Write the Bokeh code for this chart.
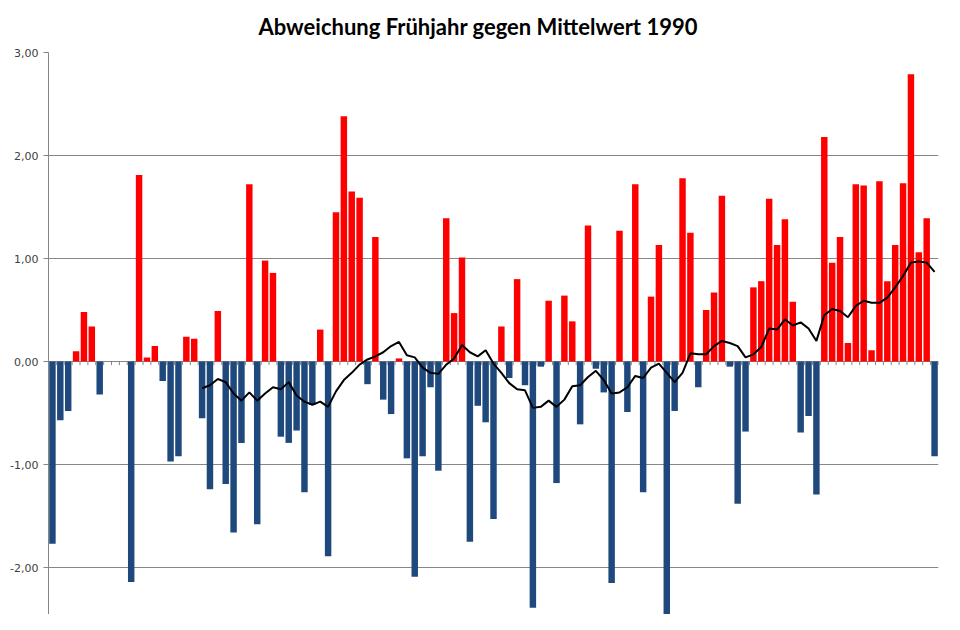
from bokeh.plotting import figure
from bokeh.models import Range1d, FixedTicker, CustomJSTickFormatter, ColumnDataSource
from bokeh.embed import file_html
from bokeh.resources import INLINE

# category index (one per year)
categories = list(range(1, 114))

deviation = [
    -1.77, -0.57, -0.48, 0.10, 0.48, 0.34, -0.32, None, None, None,
    -2.14, 1.81, 0.04, 0.15, -0.19, -0.97, -0.92, 0.24, 0.22, -0.55,
    -1.24, 0.49, -1.19, -1.66, -0.79, 1.72, -1.58, 0.98, 0.86, -0.73,
    -0.79, -0.67, -1.27, -0.42, 0.31, -1.89, 1.45, 2.38, 1.65, 1.59,
    -0.22, 1.21, -0.37, -0.51, 0.03, -0.94, -2.09, -0.92, -0.25, -1.06,
    1.39, 0.47, 1.01, -1.75, -0.43, -0.59, -1.53, 0.34, -0.16, 0.80,
    -0.23, -2.39, -0.05, 0.59, -1.18, 0.64, 0.39, -0.61, 1.32, -0.07,
    -0.30, -2.15, 1.27, -0.49, 1.72, -1.27, 0.63, 1.13, -2.65, -0.48,
    1.78, 1.25, -0.25, 0.50, 0.67, 1.61, -0.05, -1.38, -0.68, 0.72,
    0.78, 1.58, 1.13, 1.38, 0.58, -0.69, -0.53, -1.29, 2.18, 0.96,
    1.21, 0.18, 1.72, 1.71, 0.11, 1.75, 0.78, 1.13, 1.73, 2.79,
    1.06, 1.39, -0.92,
]

# moving-average line, starting at category 20
trend_first_category = 20
trend = [
    -0.26, -0.23, -0.17, -0.20, -0.31, -0.38, -0.30, -0.38, -0.31, -0.25,
    -0.27, -0.20, -0.33, -0.39, -0.42, -0.39, -0.44, -0.29, -0.18, -0.11,
    -0.03, 0.02, 0.05, 0.09, 0.15, 0.19, 0.06, 0.04, -0.06, -0.11,
    -0.12, -0.03, 0.03, 0.16, 0.09, 0.05, 0.11, -0.02, -0.11, -0.21,
    -0.27, -0.28, -0.45, -0.44, -0.38, -0.44, -0.37, -0.24, -0.23, -0.15,
    -0.09, -0.18, -0.31, -0.30, -0.25, -0.14, -0.16, -0.06, -0.02, -0.11,
    -0.20, -0.11, 0.08, 0.07, 0.07, 0.15, 0.20, 0.18, 0.15, 0.04,
    0.07, 0.14, 0.32, 0.31, 0.41, 0.35, 0.38, 0.32, 0.20, 0.45,
    0.51, 0.49, 0.43, 0.54, 0.59, 0.57, 0.57, 0.62, 0.72, 0.83,
    0.96, 0.97, 0.96, 0.87,
]

y_ticks = [-2, -1, 0, 1, 2, 3]

POS = "#FF0000"
NEG = "#1F497D"
GRID = "#868686"

bx = [c for c, v in zip(categories, deviation) if v is not None]
bv = [v for v in deviation if v is not None]
bars = ColumnDataSource(dict(x=bx, top=bv, color=[POS if v > 0 else NEG for v in bv]))

trend_x = categories[trend_first_category - 1:trend_first_category - 1 + len(trend)]

p = figure(width=944, height=614, output_backend="svg", toolbar_location=None,
           x_range=Range1d(categories[0] - 0.5, categories[-1] + 0.5),
           y_range=Range1d(-2.456, 3.0),
           x_axis_location=None,
           min_border_left=48, min_border_right=6, min_border_top=52, min_border_bottom=0)

p.title.text = "Abweichung Frühjahr gegen Mittelwert 1990"
p.title.align = "left"
p.title.offset = 210
p.title.standoff = 22
p.title.text_line_height = 1.0
p.title.vertical_align = "top"
p.title.text_font = "Lato"
p.title.text_font_size = "22px"
p.title.text_font_style = "bold"
p.title.text_color = "black"

p.outline_line_color = None
p.background_fill_color = "white"
p.border_fill_color = "white"

p.xgrid.grid_line_color = None
p.ygrid.grid_line_color = GRID
p.ygrid.grid_line_width = 1
p.ygrid.ticker = FixedTicker(ticks=y_ticks)

ax = p.yaxis[0]
ax.ticker = FixedTicker(ticks=y_ticks)
ax.formatter = CustomJSTickFormatter(code="return tick.toFixed(2).replace('.', ',');")
ax.axis_line_color = GRID
ax.major_tick_line_color = GRID
ax.major_tick_out = 5
ax.major_tick_in = 0
ax.minor_tick_line_color = None
ax.major_label_text_font = "DejaVu Sans"
ax.major_label_text_font_size = "11px"
ax.major_label_text_color = "#404040"
ax.major_label_standoff = 5

p.vbar(x="x", top="top", bottom=0, width=0.82, color="color", line_color=None, source=bars)

# category tick marks on the zero line
bounds = [c - 0.5 for c in categories] + [categories[-1] + 0.5]
p.segment(x0=bounds, x1=bounds, y0=[0] * len(bounds), y1=[-0.035] * len(bounds),
          line_color=GRID, line_width=1)

p.line(trend_x, trend, line_color="black", line_width=2)

open("out.html", "w").write(file_html(p, INLINE))
